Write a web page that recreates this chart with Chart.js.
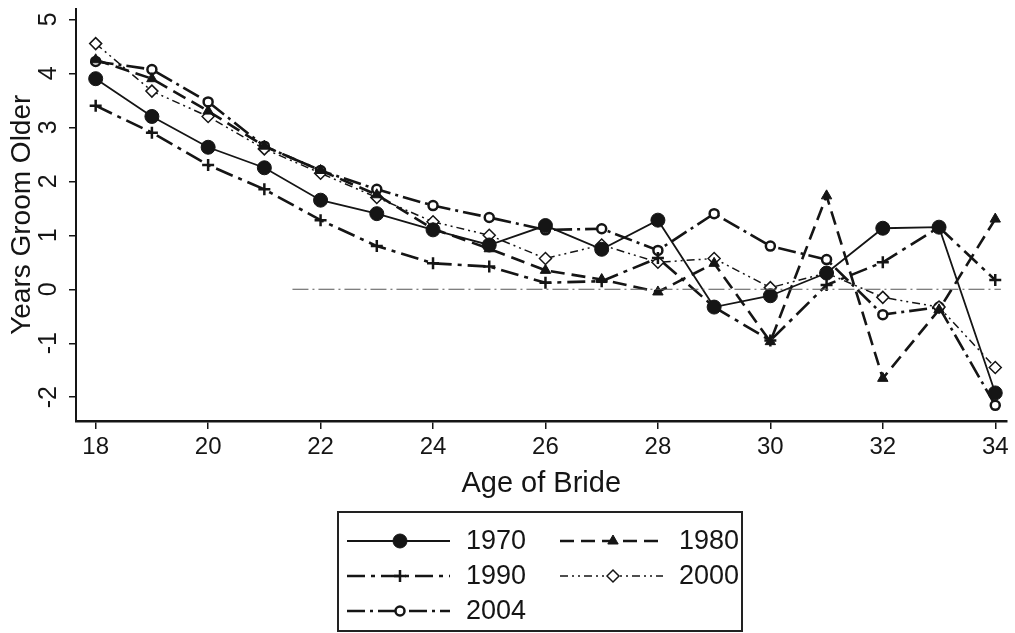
<!DOCTYPE html>
<html>
<head>
<meta charset="utf-8">
<script src="https://cdn.jsdelivr.net/npm/chart.js@4.4.1/dist/chart.umd.min.js"></script>
<style>
    html, body { margin: 0; padding: 0; background: #fff; }
    #wrap { width: 1015px; height: 633px; }
</style>
</head>
<body>
<div id="wrap"><canvas id="chart" width="1015" height="633"></canvas></div>
<script>
// Age of bride (x) and average years the groom is older, by census year
const ages = [18, 19, 20, 21, 22, 23, 24, 25, 26, 27, 28, 29, 30, 31, 32, 33, 34];
const xTicks = [18, 20, 22, 24, 26, 28, 30, 32, 34];
const yTicks = [-2, -1, 0, 1, 2, 3, 4, 5];
const years = ['1970', '1980', '1990', '2000', '2004'];

const gap1970 = [3.9, 3.2, 2.63, 2.25, 1.65, 1.4, 1.1, 0.82, 1.18, 0.74, 1.28, -0.33, -0.12, 0.3, 1.13, 1.15, -1.92];
const gap1980 = [4.25, 3.9, 3.3, 2.65, 2.2, 1.75, 1.12, 0.75, 0.35, 0.18, -0.05, 0.48, -0.97, 1.73, -1.65, -0.38, 1.3];
const gap1990 = [3.4, 2.9, 2.3, 1.85, 1.28, 0.8, 0.48, 0.42, 0.12, 0.15, 0.58, -0.33, -0.95, 0.08, 0.5, 1.15, 0.17];
const gap2000 = [4.55, 3.67, 3.2, 2.6, 2.15, 1.7, 1.25, 1.0, 0.57, 0.82, 0.5, 0.57, 0.03, 0.3, -0.15, -0.33, -1.45];
const gap2004 = [4.22, 4.07, 3.47, 2.65, 2.2, 1.85, 1.55, 1.33, 1.1, 1.12, 0.72, 1.4, 0.8, 0.55, -0.47, -0.33, -2.15];

// faint reference line at zero
const zeroLineX = [21.5, 34.1];
const zeroLineY = [0, 0];

const ink = '#151515';
const fontFamily = "'Liberation Sans', Arial, Helvetica, sans-serif";

function toPoints(values) {
    return ages.map((a, i) => ({ x: a, y: values[i] }));
}

const seriesStyles = [
    { data: gap1970, dash: [], width: 1.8, pointStyle: 'circle', radius: 7, fill: ink, pointBorder: 1 },
    { data: gap1980, dash: [14, 7], width: 2.6, pointStyle: 'triangle', radius: 6, fill: ink, pointBorder: 1 },
    { data: gap1990, dash: [18, 6, 4, 6], width: 2.6, pointStyle: 'cross', radius: 6, fill: ink, pointBorder: 2.5 },
    { data: gap2000, dash: [8, 4, 2, 4, 2, 4], width: 1.5, pointStyle: 'rectRot', radius: 6, fill: '#fff', pointBorder: 1.5 },
    { data: gap2004, dash: [18, 5, 3, 5], width: 2.6, pointStyle: 'circle', radius: 4.5, fill: '#fff', pointBorder: 2.5 }
];

const datasets = seriesStyles.map((s, i) => ({
    label: years[i],
    data: toPoints(s.data),
    borderColor: ink,
    borderWidth: s.width,
    borderDash: s.dash,
    pointStyle: s.pointStyle,
    pointRadius: s.radius,
    pointBackgroundColor: s.fill,
    pointBorderColor: ink,
    pointBorderWidth: s.pointBorder,
    tension: 0,
    fill: false
}));

datasets.unshift({
    label: 'zero',
    data: zeroLineX.map((x, i) => ({ x: x, y: zeroLineY[i] })),
    borderColor: '#555',
    borderWidth: 1,
    borderDash: [16, 4, 2, 4],
    pointRadius: 0,
    tension: 0,
    fill: false
});

// Boxed two-column legend under the x axis title
const legendBox = {
    id: 'legendBox',
    afterDraw(chart) {
        const ctx = chart.ctx;
        ctx.save();
        ctx.strokeStyle = '#222';
        ctx.lineWidth = 2;
        ctx.strokeRect(338, 512, 404, 119);

        const slots = [[347, 541], [560, 541], [347, 576], [560, 576], [347, 611]];
        seriesStyles.forEach((s, i) => {
            const [x, y] = slots[i];
            ctx.strokeStyle = ink;
            ctx.lineWidth = s.width;
            ctx.setLineDash(s.dash);
            ctx.beginPath();
            ctx.moveTo(x, y);
            ctx.lineTo(x + 103, y);
            ctx.stroke();
            ctx.setLineDash([]);

            ctx.fillStyle = s.fill;
            ctx.lineWidth = s.pointBorder;
            Chart.helpers.drawPoint(ctx, {
                pointStyle: s.pointStyle,
                radius: s.radius,
                rotation: 0,
                borderWidth: s.pointBorder
            }, x + 53, y);

            ctx.fillStyle = ink;
            ctx.font = '27px ' + fontFamily;
            ctx.textAlign = 'left';
            ctx.textBaseline = 'middle';
            ctx.fillText(years[i], x + 119, y + 1);
        });
        ctx.restore();
    }
};

new Chart(document.getElementById('chart'), {
    type: 'line',
    data: { datasets: datasets },
    plugins: [legendBox],
    options: {
        responsive: false,
        animation: false,
        layout: { padding: { left: 0, right: 5, top: 8, bottom: 122 } },
        plugins: {
            legend: { display: false },
            tooltip: { enabled: false }
        },
        scales: {
            x: {
                type: 'linear',
                min: 17.65,
                max: 34.2,
                afterBuildTicks: (scale) => { scale.ticks = xTicks.map(v => ({ value: v })); },
                afterFit: (scale) => {
                    scale.height = 90;
                    scale.paddingLeft = 0;
                    scale.paddingRight = 0;
                },
                grid: { display: true, drawOnChartArea: false, drawTicks: true, tickLength: 8, color: ink, lineWidth: 1.5 },
                border: { display: true, color: ink, width: 2.5 },
                ticks: { color: ink, font: { family: fontFamily, size: 24 }, padding: 4, maxRotation: 0 },
                title: {
                    display: true,
                    text: 'Age of Bride',
                    color: ink,
                    font: { family: fontFamily, size: 29 },
                    padding: { top: 0, bottom: 10 }
                }
            },
            y: {
                min: -2.44,
                max: 5.2,
                afterBuildTicks: (scale) => { scale.ticks = yTicks.map(v => ({ value: v })); },
                afterFit: (scale) => {
                    scale.width = 76;
                    scale.paddingTop = 0;
                    scale.paddingBottom = 0;
                },
                grid: { display: true, drawOnChartArea: false, drawTicks: true, tickLength: 7, color: ink, lineWidth: 1.5 },
                border: { display: true, color: ink, width: 2 },
                ticks: {
                    color: ink,
                    font: { family: fontFamily, size: 25 },
                    minRotation: 90,
                    maxRotation: 90,
                    crossAlign: 'center',
                    padding: 9
                },
                title: {
                    display: true,
                    text: 'Years Groom Older',
                    color: ink,
                    font: { family: fontFamily, size: 28 },
                    padding: { top: 5, bottom: 0 }
                }
            }
        }
    }
});
</script>
</body>
</html>
